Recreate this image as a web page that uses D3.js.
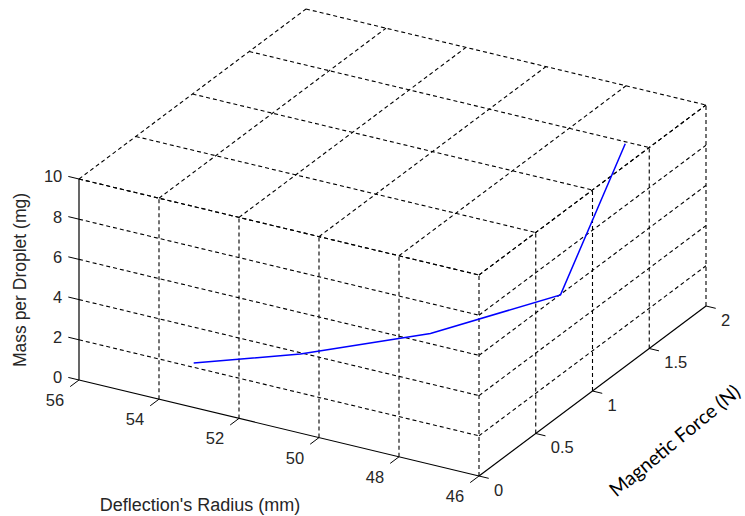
<!DOCTYPE html>
<html>
<head>
<meta charset="utf-8">
<script src="https://cdn.jsdelivr.net/npm/d3@7"></script>
<style>
  body { margin: 0; background: #fff; }
  svg text { font-family: "Liberation Sans", Arial, sans-serif; fill: #262626; }
</style>
</head>
<body>
<svg id="chart" width="745" height="516"></svg>
<script>
// tick values for the three axes
const radiusTicks = [56, 54, 52, 50, 48, 46];
const forceTicks = [0, 0.5, 1, 1.5, 2];
const massTicks = [0, 2, 4, 6, 8, 10];

// the measured curve
const radius = [53.7, 51.6, 49.2, 46.8, 46.6];
const force = [0.2, 0.4, 0.7, 1.0, 1.5];
const mass = [1.1, 1.7, 2.6, 4.4, 9.9];

const svg = d3.select("#chart");

// each axis maps its domain onto 0..1, then onto a screen vector
const xS = d3.scaleLinear().domain([56, 46]).range([0, 1]);
const yS = d3.scaleLinear().domain([0, 2]).range([0, 1]);
const zS = d3.scaleLinear().domain([0, 10]).range([0, 1]);
const origin = [79, 380];
const vx = [400, 96], vy = [227, -170], vz = [0, -201];

function proj(x, y, z) {
  const u = xS(x), v = yS(y), w = zS(z);
  return [
    origin[0] + u * vx[0] + v * vy[0] + w * vz[0],
    origin[1] + u * vx[1] + v * vy[1] + w * vz[1],
  ];
}

const xMin = 56, xMax = 46, yMin = 0, yMax = 2, zMin = 0, zMax = 10;

// grid segments on the three walls
const grid = [];
// wall y = 0
radiusTicks.filter((t) => t !== xMin).forEach((t) => grid.push([[t, yMin, zMin], [t, yMin, zMax]]));
massTicks.filter((t) => t !== zMin).forEach((t) => grid.push([[xMin, yMin, t], [xMax, yMin, t]]));
// wall x = 46
forceTicks.filter((t) => t !== yMin).forEach((t) => grid.push([[xMax, t, zMin], [xMax, t, zMax]]));
massTicks.filter((t) => t !== zMin).forEach((t) => grid.push([[xMax, yMin, t], [xMax, yMax, t]]));
// wall z = 10
radiusTicks.forEach((t) => grid.push([[t, yMin, zMax], [t, yMax, zMax]]));
forceTicks.forEach((t) => grid.push([[xMin, t, zMax], [xMax, t, zMax]]));

svg
  .append("g")
  .selectAll("line")
  .data(grid)
  .join("line")
  .attr("x1", (d) => proj(...d[0])[0])
  .attr("y1", (d) => proj(...d[0])[1])
  .attr("x2", (d) => proj(...d[1])[0])
  .attr("y2", (d) => proj(...d[1])[1])
  .attr("stroke", "#000")
  .attr("stroke-width", 1.1)
  .attr("stroke-dasharray", "4,3");

// solid axis lines
const axes = [
  [[xMin, yMin, zMin], [xMin, yMin, zMax]],
  [[xMin, yMin, zMin], [xMax, yMin, zMin]],
  [[xMax, yMin, zMin], [xMax, yMax, zMin]],
];
svg
  .append("g")
  .selectAll("line")
  .data(axes)
  .join("line")
  .attr("x1", (d) => proj(...d[0])[0])
  .attr("y1", (d) => proj(...d[0])[1])
  .attr("x2", (d) => proj(...d[1])[0])
  .attr("y2", (d) => proj(...d[1])[1])
  .attr("stroke", "#000")
  .attr("stroke-width", 1.2);

function unit(v, len) {
  const n = Math.hypot(v[0], v[1]);
  return [(v[0] / n) * len, (v[1] / n) * len];
}
const zTickDir = unit([-vx[0], -vx[1]], 11);
const xTickDir = unit([-vy[0], -vy[1]], 11);
const yTickDir = unit(vx, 10);

// Mass (z) axis ticks and labels
const zAxis = svg.append("g");
massTicks.forEach((t) => {
  const p = proj(xMin, yMin, t);
  zAxis.append("line")
    .attr("x1", p[0]).attr("y1", p[1])
    .attr("x2", p[0] + zTickDir[0]).attr("y2", p[1] + zTickDir[1])
    .attr("stroke", "#000");
  zAxis.append("text")
    .attr("x", p[0] + zTickDir[0] - 6)
    .attr("y", p[1] + zTickDir[1])
    .attr("dy", "0.36em")
    .attr("text-anchor", "end")
    .attr("font-size", 16.5)
    .text(t);
});

// Radius (x) axis ticks and labels
const xAxis = svg.append("g");
radiusTicks.forEach((t) => {
  const p = proj(t, yMin, zMin);
  xAxis.append("line")
    .attr("x1", p[0]).attr("y1", p[1])
    .attr("x2", p[0] + xTickDir[0]).attr("y2", p[1] + xTickDir[1])
    .attr("stroke", "#000");
  xAxis.append("text")
    .attr("x", p[0] - 24)
    .attr("y", p[1] + 20)
    .attr("dy", "0.36em")
    .attr("text-anchor", "middle")
    .attr("font-size", 16.5)
    .text(t);
});

// Force (y) axis ticks and labels
const yAxis = svg.append("g");
forceTicks.forEach((t) => {
  const p = proj(xMax, t, zMin);
  yAxis.append("line")
    .attr("x1", p[0]).attr("y1", p[1])
    .attr("x2", p[0] + yTickDir[0]).attr("y2", p[1] + yTickDir[1])
    .attr("stroke", "#000");
  yAxis.append("text")
    .attr("x", p[0] + 15)
    .attr("y", p[1] + 14)
    .attr("dy", "0.36em")
    .attr("text-anchor", "start")
    .attr("font-size", 16.5)
    .text(t);
});

// the data line
const pts = radius.map((r, i) => proj(r, force[i], mass[i]));
svg
  .append("path")
  .datum(pts)
  .attr("fill", "none")
  .attr("stroke", "#0000ff")
  .attr("stroke-width", 1.5)
  .attr("d", d3.line().x((d) => d[0]).y((d) => d[1]));

// axis titles
svg.append("text")
  .attr("transform", "translate(26,280) rotate(-90)")
  .attr("text-anchor", "middle")
  .attr("font-size", 17.5)
  .text("Mass per Droplet (mg)");

svg.append("text")
  .attr("x", 200)
  .attr("y", 511)
  .attr("text-anchor", "middle")
  .attr("font-size", 18)
  .text("Deflection's Radius (mm)");

svg.append("text")
  .attr("transform", "translate(679,446) rotate(-39.5)")
  .attr("text-anchor", "middle")
  .attr("font-size", 19.5)
  .style("font-family", "Lato, 'Open Sans', sans-serif")
  .style("fill", "#000")
  .text("Magnetic Force (N)");
</script>
</body>
</html>
